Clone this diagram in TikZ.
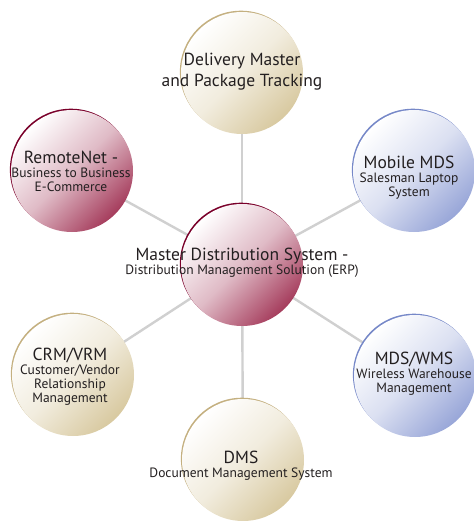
\documentclass[tikz,border=0pt]{standalone}
\usepackage{fontspec}
\setmainfont{PT Sans}
\usetikzlibrary{backgrounds}

\newcommand{\bigtxt}{\fontsize{17.5}{21}\selectfont}
\newcommand{\smalltxt}{\fontsize{13.5}{14}\selectfont}

\definecolor{wine}{RGB}{165,60,92}
\definecolor{winerim}{RGB}{122,0,42}
\definecolor{sand}{RGB}{216,201,160}
\definecolor{sandrim}{RGB}{196,176,128}
\definecolor{sky}{RGB}{152,166,216}
\definecolor{skyrim}{RGB}{118,136,200}
\definecolor{spokegray}{RGB}{208,208,208}
\definecolor{ink}{RGB}{35,31,32}

\tikzset{
	bubble/.style 2 args={circle, minimum size=122pt, inner sep=0pt,
		top color=white, bottom color=#1, middle color=#1!35, shading angle=45,
		preaction={fill=#2, transform canvas={shift={(-1.1pt,1.3pt)}}}},
	txt/.style={align=center, font=\smalltxt, text=ink, inner sep=0pt},
	spoke/.style={draw=spokegray, line width=2.4pt},
}

\begin{document}
\begin{tikzpicture}[x=1pt,y=-1pt]
		\useasboundingbox (0,0) rectangle (473,521);
		% circles
		\node[bubble={wine}{winerim}] (mds) at (242,265) {};
		\node[bubble={sand}{sandrim}] (delivery) at (242,73) {};
		\node[bubble={sky}{skyrim}] (mobile) at (414,171) {};
		\node[bubble={sky}{skyrim}] (wms) at (415,376) {};
		\node[bubble={sand}{sandrim}] (dms) at (243,460) {};
		\node[bubble={sand}{sandrim}] (crm) at (73,375) {};
		\node[bubble={wine}{winerim}] (remote) at (72,171) {};
		% spokes
		\begin{scope}[on background layer]
		\draw[spoke] (mds.center) -- (delivery.center);
		\draw[spoke] (mds.center) -- (mobile.center);
		\draw[spoke] (mds.center) -- (wms.center);
		\draw[spoke] (mds.center) -- (dms.center);
		\draw[spoke] (mds.center) -- (crm.center);
		\draw[spoke] (mds.center) -- (remote.center);
		\end{scope}
		% texts
		\node[txt] (mdstxt) at (242,263) {{\bigtxt Master Distribution System -}\\Distribution Management Solution (ERP)};
		\node[txt, font=\bigtxt] (deliverytxt) at (242,72) {Delivery Master\\and Package Tracking};
		\node[txt] (mobiletxt) at (409,178) {{\bigtxt Mobile MDS}\\Salesman Laptop\\System};
		\node[txt] (wmstxt) at (414,374) {{\bigtxt MDS/WMS}\\Wireless Warehouse\\Management};
		\node[txt] (dmstxt) at (241,466) {{\bigtxt DMS}\\Document Management System};
		\node[txt] (crmtxt) at (70,377) {{\bigtxt CRM/VRM}\\Customer/Vendor\\Relationship\\Management};
		\node[txt] (remotetxt) at (71,171) {{\bigtxt RemoteNet -}\\Business to Business\\E-Commerce};
	\end{tikzpicture}
\end{document}
